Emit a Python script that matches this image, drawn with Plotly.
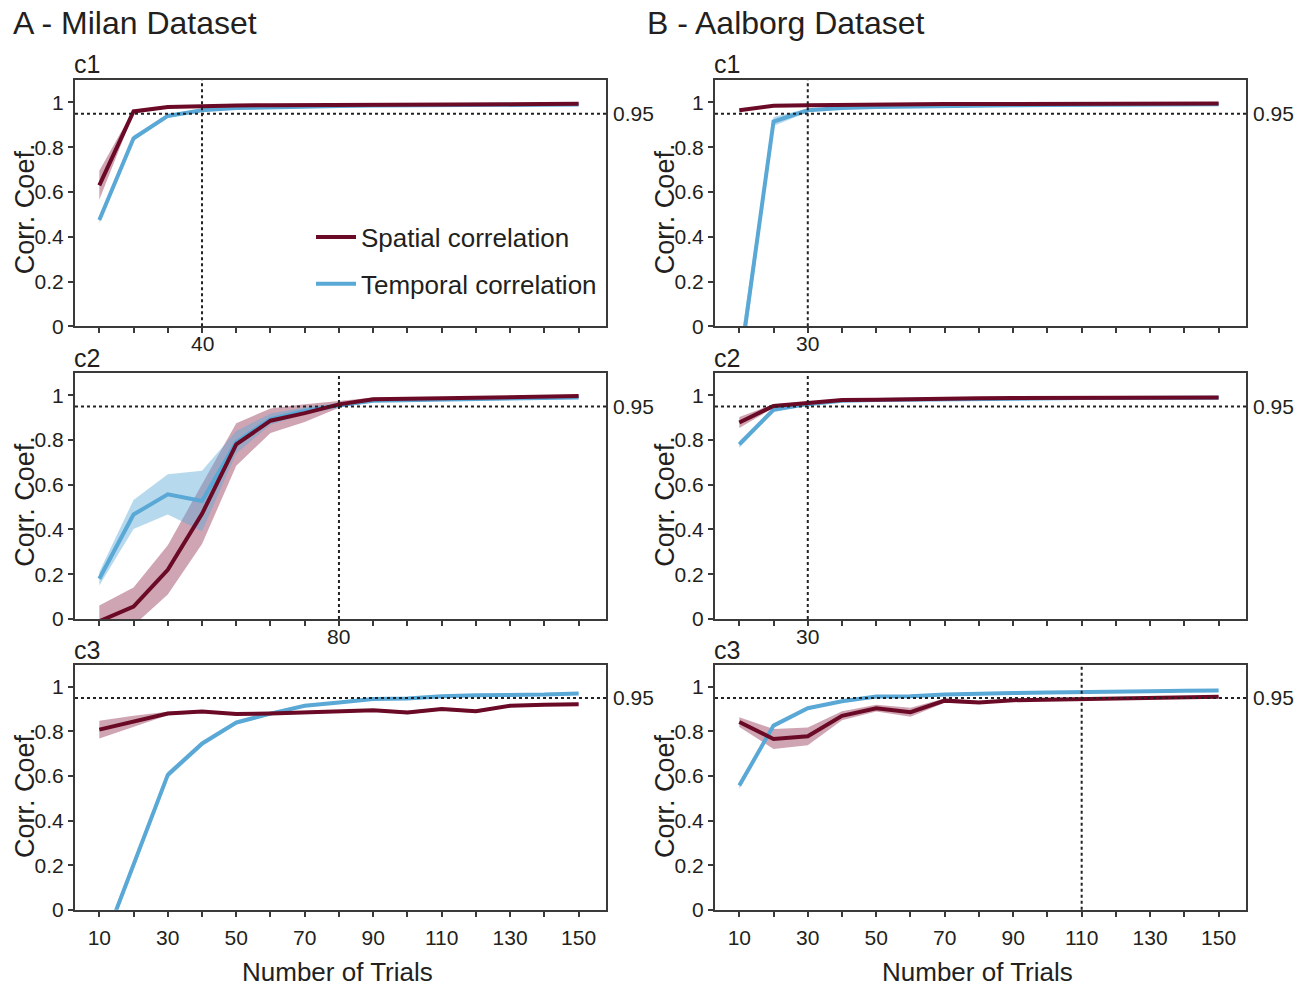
import plotly.graph_objects as go

# ---- data -----------------------------------------------------------------
TRIALS = [10, 20, 30, 40, 50, 60, 70, 80, 90, 100, 110, 120, 130, 140, 150]
X_LABELS_BOTTOM = ["10", "", "30", "", "50", "", "70", "", "90", "", "110", "", "130", "", "150"]
Y_TICKS = [0, 0.2, 0.4, 0.6, 0.8, 1]
Y_LABELS = ["0", "0.2", "0.4", "0.6", "0.8", "1"]
THRESHOLD = 0.95

# Milan dataset
milan_c1_spatial = [0.63, 0.96, 0.98, 0.985, 0.987, 0.988, 0.989, 0.99, 0.99, 0.991, 0.992, 0.993, 0.993, 0.994, 0.994]
milan_c1_spatial_sd = [0.065, 0.008, 0.005, 0.004, 0.003, 0.003, 0.002, 0.002, 0.002, 0.002, 0.002, 0.002, 0.002, 0.002, 0.002]
milan_c1_temporal = [0.475, 0.84, 0.94, 0.965, 0.975, 0.979, 0.982, 0.984, 0.986, 0.987, 0.988, 0.989, 0.99, 0.99, 0.991]
milan_c1_temporal_sd = [0.015, 0.012, 0.008, 0.005, 0.004, 0.003, 0.003, 0.002, 0.002, 0.002, 0.002, 0.002, 0.002, 0.002, 0.002]
milan_c1_cutoff = 40

milan_c2_spatial = [-0.01, 0.056, 0.22, 0.47, 0.78, 0.886, 0.92, 0.959, 0.982, 0.984, 0.986, 0.988, 0.99, 0.994, 0.996]
milan_c2_spatial_sd = [0.07, 0.085, 0.11, 0.135, 0.095, 0.055, 0.04, 0.015, 0.008, 0.006, 0.005, 0.005, 0.004, 0.004, 0.004]
milan_c2_temporal = [0.18, 0.467, 0.557, 0.527, 0.79, 0.893, 0.93, 0.955, 0.975, 0.978, 0.98, 0.982, 0.984, 0.988, 0.99]
milan_c2_temporal_sd = [0.03, 0.065, 0.09, 0.135, 0.05, 0.025, 0.015, 0.01, 0.006, 0.005, 0.004, 0.004, 0.004, 0.004, 0.004]
milan_c2_cutoff = 80

milan_c3_spatial = [0.808, 0.845, 0.88, 0.889, 0.878, 0.88, 0.885, 0.89, 0.895, 0.885, 0.9, 0.89, 0.915, 0.92, 0.922]
milan_c3_spatial_sd = [0.04, 0.025, 0.008, 0.006, 0.006, 0.006, 0.006, 0.006, 0.006, 0.008, 0.006, 0.008, 0.006, 0.006, 0.006]
milan_c3_temporal = [-0.2, 0.2, 0.605, 0.745, 0.84, 0.88, 0.915, 0.93, 0.945, 0.948, 0.958, 0.962, 0.963, 0.965, 0.97]
milan_c3_temporal_sd = [0.02, 0.02, 0.015, 0.012, 0.01, 0.008, 0.006, 0.005, 0.004, 0.004, 0.004, 0.004, 0.004, 0.004, 0.004]

# Aalborg dataset
aalborg_c1_spatial = [0.965, 0.985, 0.988, 0.99, 0.991, 0.992, 0.993, 0.993, 0.994, 0.994, 0.995, 0.995, 0.996, 0.996, 0.996]
aalborg_c1_spatial_sd = [0.006, 0.004, 0.003, 0.002, 0.002, 0.002, 0.002, 0.002, 0.002, 0.002, 0.002, 0.002, 0.002, 0.002, 0.002]
aalborg_c1_temporal = [-0.19, 0.915, 0.965, 0.975, 0.98, 0.983, 0.985, 0.987, 0.988, 0.989, 0.99, 0.99, 0.991, 0.991, 0.992]
aalborg_c1_temporal_sd = [0.08, 0.02, 0.008, 0.005, 0.004, 0.003, 0.003, 0.002, 0.002, 0.002, 0.002, 0.002, 0.002, 0.002, 0.002]
aalborg_c1_cutoff = 30

aalborg_c2_spatial = [0.878, 0.952, 0.965, 0.978, 0.98, 0.983, 0.985, 0.986, 0.987, 0.987, 0.988, 0.989, 0.989, 0.99, 0.99]
aalborg_c2_spatial_sd = [0.025, 0.008, 0.005, 0.004, 0.003, 0.003, 0.002, 0.002, 0.002, 0.002, 0.002, 0.002, 0.002, 0.002, 0.002]
aalborg_c2_temporal = [0.78, 0.935, 0.96, 0.975, 0.978, 0.98, 0.982, 0.983, 0.985, 0.986, 0.987, 0.987, 0.988, 0.988, 0.989]
aalborg_c2_temporal_sd = [0.015, 0.01, 0.005, 0.004, 0.003, 0.003, 0.002, 0.002, 0.002, 0.002, 0.002, 0.002, 0.002, 0.002, 0.002]
aalborg_c2_cutoff = 30

aalborg_c3_spatial = [0.842, 0.766, 0.778, 0.87, 0.904, 0.886, 0.938, 0.93, 0.94, 0.942, 0.945, 0.946, 0.948, 0.95, 0.955]
aalborg_c3_spatial_sd = [0.022, 0.045, 0.04, 0.02, 0.015, 0.02, 0.01, 0.006, 0.005, 0.005, 0.005, 0.005, 0.005, 0.005, 0.005]
aalborg_c3_temporal = [0.557, 0.826, 0.904, 0.935, 0.956, 0.958, 0.965, 0.97, 0.972, 0.975, 0.978, 0.98, 0.98, 0.982, 0.983]
aalborg_c3_temporal_sd = [0.015, 0.008, 0.005, 0.004, 0.003, 0.003, 0.003, 0.003, 0.003, 0.003, 0.003, 0.003, 0.003, 0.003, 0.003]
aalborg_c3_cutoff = 110

# ---- styling ----------------------------------------------------------------
W, H = 1307, 988
FONT = "Liberation Sans, Arial, sans-serif"
TXT = "#231f20"
FRAME = "#3a3a3a"
SPATIAL = "#6b0a26"
SPATIAL_BAND = "rgba(140, 40, 75, 0.42)"
TEMPORAL = "#5aa8d6"
TEMPORAL_BAND = "rgba(95, 170, 215, 0.45)"
TICK_SIZE = 21
LABEL_SIZE = 26


def px_x(p):
    return p / W


def px_y(p):
    return 1 - p / H


COL_X = [(75, 606), (715, 1246)]
ROW_Y = [(81, 330), (377, 626), (672, 920)]
ROW_LABEL_Y = [65, 362, 657]

panels = [
    # (row, col, spatial, spatial_sd, temporal, temporal_sd, cutoff)
    (0, 0, milan_c1_spatial, milan_c1_spatial_sd, milan_c1_temporal, milan_c1_temporal_sd, milan_c1_cutoff),
    (1, 0, milan_c2_spatial, milan_c2_spatial_sd, milan_c2_temporal, milan_c2_temporal_sd, milan_c2_cutoff),
    (2, 0, milan_c3_spatial, milan_c3_spatial_sd, milan_c3_temporal, milan_c3_temporal_sd, None),
    (0, 1, aalborg_c1_spatial, aalborg_c1_spatial_sd, aalborg_c1_temporal, aalborg_c1_temporal_sd, aalborg_c1_cutoff),
    (1, 1, aalborg_c2_spatial, aalborg_c2_spatial_sd, aalborg_c2_temporal, aalborg_c2_temporal_sd, aalborg_c2_cutoff),
    (2, 1, aalborg_c3_spatial, aalborg_c3_spatial_sd, aalborg_c3_temporal, aalborg_c3_temporal_sd, aalborg_c3_cutoff),
]

fig = go.Figure()
layout = {}
shapes = []
annotations = []


def band(fig, xa, ya, mean, sd, color, group):
    lo = [m - s for m, s in zip(mean, sd)]
    hi = [m + s for m, s in zip(mean, sd)]
    fig.add_trace(go.Scatter(x=TRIALS, y=lo, xaxis=xa, yaxis=ya, mode="lines",
                             line=dict(width=0), showlegend=False, hoverinfo="skip",
                             legendgroup=group))
    fig.add_trace(go.Scatter(x=TRIALS, y=hi, xaxis=xa, yaxis=ya, mode="lines",
                             line=dict(width=0), fill="tonexty", fillcolor=color,
                             showlegend=False, hoverinfo="skip", legendgroup=group))


for i, (row, col, sp, sp_sd, tp, tp_sd, cutoff) in enumerate(panels):
    n = i + 1
    xa = "x" if n == 1 else f"x{n}"
    ya = "y" if n == 1 else f"y{n}"
    xkey = "xaxis" if n == 1 else f"xaxis{n}"
    ykey = "yaxis" if n == 1 else f"yaxis{n}"

    band(fig, xa, ya, sp, sp_sd, SPATIAL_BAND, "spatial")
    band(fig, xa, ya, tp, tp_sd, TEMPORAL_BAND, "temporal")
    fig.add_trace(go.Scatter(x=TRIALS, y=tp, xaxis=xa, yaxis=ya, mode="lines",
                             line=dict(color=TEMPORAL, width=4),
                             name="Temporal correlation", legendgroup="temporal",
                             legendrank=2, showlegend=(n == 1)))
    fig.add_trace(go.Scatter(x=TRIALS, y=sp, xaxis=xa, yaxis=ya, mode="lines",
                             line=dict(color=SPATIAL, width=4),
                             name="Spatial correlation", legendgroup="spatial",
                             legendrank=1, showlegend=(n == 1)))

    bottom = row == 2
    x0, x1 = COL_X[col]
    y0, y1 = ROW_Y[row]
    layout[xkey] = dict(
        domain=[px_x(x0), px_x(x1)], anchor=ya, range=[2.9, 158],
        tickmode="array", tickvals=TRIALS,
        ticktext=X_LABELS_BOTTOM if bottom else [""] * len(TRIALS),
        ticks="outside", ticklen=5, tickwidth=1.5, tickcolor=FRAME,
        ticklabelstandoff=3 if bottom else 0,
        showline=True, linecolor=FRAME, linewidth=2, mirror=True,
        showgrid=False, zeroline=False,
        tickfont=dict(family=FONT, size=TICK_SIZE, color=TXT),
    )
    layout[ykey] = dict(
        domain=[px_y(y1), px_y(y0)], anchor=xa, range=[0, 1.1],
        tickmode="array", tickvals=Y_TICKS, ticktext=Y_LABELS,
        ticks="outside", ticklen=5, tickwidth=1.5, tickcolor=FRAME,
        showline=True, linecolor=FRAME, linewidth=2, mirror=True,
        showgrid=False, zeroline=False,
        tickfont=dict(family=FONT, size=TICK_SIZE, color=TXT),
    )

    # threshold line
    shapes.append(dict(type="line", xref=f"{xa} domain", yref=ya,
                       x0=0, x1=1, y0=THRESHOLD, y1=THRESHOLD,
                       line=dict(color="#222", width=2, dash="dot")))
    annotations.append(dict(xref=f"{xa} domain", yref=ya, x=1.01, y=THRESHOLD,
                            text="0.95", showarrow=False, xanchor="left", yanchor="middle",
                            font=dict(family=FONT, size=TICK_SIZE, color=TXT)))
    if cutoff is not None:
        shapes.append(dict(type="line", xref=xa, yref=f"{ya} domain",
                           x0=cutoff, x1=cutoff, y0=0, y1=1,
                           line=dict(color="#222", width=2, dash="dot")))
        if not bottom:
            # cutoff value written just under the axis
            annotations.append(dict(xref=xa, yref=f"{ya} domain", x=cutoff, y=0,
                                    text=str(cutoff), showarrow=False,
                                    xanchor="center", yanchor="top", yshift=-4,
                                    font=dict(family=FONT, size=TICK_SIZE, color=TXT)))

    # panel label and y title
    annotations.append(dict(xref="paper", yref="paper", x=px_x(x0 - 3), y=px_y(ROW_LABEL_Y[row]),
                            text=f"c{row + 1}", showarrow=False, xanchor="left", yanchor="middle",
                            font=dict(family=FONT, size=LABEL_SIZE - 1, color=TXT)))
    annotations.append(dict(xref="paper", yref="paper", x=px_x(x0 - 50), y=px_y((y0 + y1) / 2 + 6),
                            text="Corr. Coef.", textangle=-90, showarrow=False,
                            xanchor="center", yanchor="middle",
                            font=dict(family=FONT, size=27, color=TXT)))

# dataset headings and x titles
annotations.append(dict(xref="paper", yref="paper", x=px_x(11), y=px_y(23),
                        text="A - Milan Dataset", showarrow=False, xanchor="left", yanchor="middle",
                        font=dict(family=FONT, size=32, color=TXT)))
annotations.append(dict(xref="paper", yref="paper", x=px_x(645), y=px_y(23),
                        text="B - Aalborg Dataset", showarrow=False, xanchor="left", yanchor="middle",
                        font=dict(family=FONT, size=32, color=TXT)))
for x0, x1 in COL_X:
    annotations.append(dict(xref="paper", yref="paper", x=px_x((x0 + x1) / 2 - 3), y=0,
                            text="Number of Trials", showarrow=False, xanchor="center", yanchor="bottom",
                            yshift=-11, borderpad=0,
                            font=dict(family=FONT, size=LABEL_SIZE, color=TXT)))

fig.update_layout(
    width=W, height=H,
    margin=dict(l=0, r=0, t=0, b=0),
    paper_bgcolor="white", plot_bgcolor="white",
    showlegend=True,
    legend=dict(x=px_x(311), y=px_y(216), xanchor="left", yanchor="top",
                bgcolor="rgba(0,0,0,0)", font=dict(family=FONT, size=LABEL_SIZE, color=TXT),
                traceorder="grouped", tracegroupgap=10, itemwidth=40),
    shapes=shapes, annotations=annotations,
    **layout,
)

fig.write_html("out.html")
